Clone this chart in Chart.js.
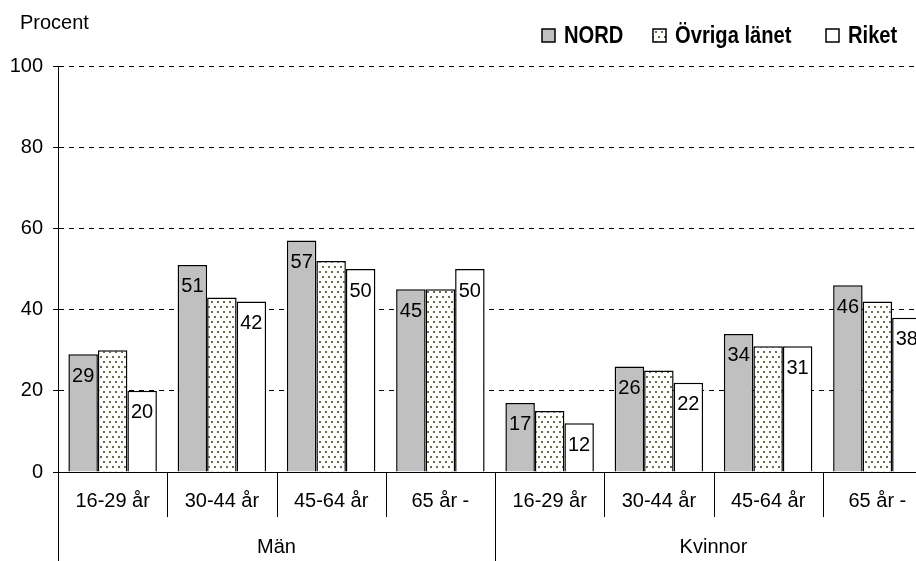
<!DOCTYPE html>
<html>
<head>
<meta charset="utf-8">
<script src="https://cdn.jsdelivr.net/npm/chart.js@4"></script>
<style>
  html, body { margin: 0; padding: 0; background: #fff; overflow: hidden; }
  #c { display: block; }
</style>
</head>
<body>
<canvas id="c" width="945" height="561"></canvas>
<script>
const categories = ["16-29 år", "30-44 år", "45-64 år", "65 år -", "16-29 år", "30-44 år", "45-64 år", "65 år -"];
const groups = ["Män", "Kvinnor"];
const seriesNames = ["NORD", "Övriga länet", "Riket"];
const nord = [29, 51, 57, 45, 17, 26, 34, 46];
const ovriga = [30, 43, 52, 45, 15, 25, 31, 42];
const riket = [20, 42, 50, 50, 12, 22, 31, 38];
const yMax = 100;
const yStep = 20;
const yTitle = "Procent";

const FONT = '"Liberation Sans", Arial, sans-serif';

// dotted fill for "Övriga länet"
function makeDots() {
  const t = document.createElement("canvas");
  t.width = 6;
  t.height = 10;
  const g = t.getContext("2d");
  g.fillStyle = "#ffffff";
  g.fillRect(0, 0, 6, 10);
  g.fillStyle = "#6b6b45";
  g.fillRect(1, 1, 2, 2);
  g.fillRect(4, 6, 2, 2);
  return g.createPattern(t, "repeat");
}
const dots = makeDots();

const fills = ["#c0c0c0", dots, "#ffffff"];

const decor = {
  id: "decor",
  afterDatasetsDraw(chart) {
    const { ctx, chartArea: a, scales: { x } } = chart;
    ctx.save();

    // value labels, only NORD and Riket have them
    ctx.font = "20px " + FONT;
    ctx.fillStyle = "#000";
    ctx.textAlign = "center";
    ctx.textBaseline = "middle";
    [0, 2].forEach((di) => {
      chart.getDatasetMeta(di).data.forEach((bar, i) => {
        ctx.fillText(String(chart.data.datasets[di].data[i]), bar.x, bar.y + 22);
      });
    });

    // x axis line
    ctx.strokeStyle = "#000";
    ctx.lineWidth = 1;
    ctx.beginPath();
    ctx.moveTo(a.left, Math.round(a.bottom) + 0.5);
    ctx.lineTo(a.right, Math.round(a.bottom) + 0.5);
    ctx.stroke();

    // separators between categories, longer ones between Män / Kvinnor
    const n = categories.length;
    const per = n / groups.length;
    const edge = (i) => {
      if (i === 0) return a.left;
      if (i === n) return a.right;
      return (x.getPixelForValue(i - 1) + x.getPixelForValue(i)) / 2;
    };
    for (let i = 0; i <= n; i++) {
      const px = Math.round(edge(i)) + 0.5;
      ctx.beginPath();
      ctx.moveTo(px, a.bottom);
      ctx.lineTo(px, i % per === 0 ? chart.height : a.bottom + 45);
      ctx.stroke();
    }

    // category labels
    ctx.font = "20px " + FONT;
    categories.forEach((c, i) => {
      ctx.fillText(c, x.getPixelForValue(i), a.bottom + 29);
    });
    // group labels
    groups.forEach((g, gi) => {
      const cx = (edge(gi * per) + edge((gi + 1) * per)) / 2;
      ctx.fillText(g, cx, a.bottom + 75);
    });

    // y title
    ctx.textAlign = "left";
    ctx.fillText(yTitle, 20, 23);

    // legend (narrow bold face approximated by squeezing)
    const lx = [542, 653, 826];
    chart.data.datasets.forEach((ds, i) => {
      ctx.fillStyle = ds.backgroundColor;
      ctx.fillRect(lx[i], 29, 13, 13);
      ctx.lineWidth = 1.5;
      ctx.strokeStyle = "#000";
      ctx.strokeRect(lx[i], 29, 13, 13);
      ctx.save();
      ctx.translate(lx[i] + 22, 43);
      ctx.scale(0.84, 1);
      ctx.font = "bold 24px " + FONT;
      ctx.fillStyle = "#000";
      ctx.textBaseline = "alphabetic";
      ctx.fillText(ds.label, 0, 0);
      ctx.restore();
    });

    ctx.restore();
  }
};

const datasets = [nord, ovriga, riket].map((d, i) => ({
  label: seriesNames[i],
  data: d,
  backgroundColor: fills[i],
  borderColor: "#000",
  borderWidth: 1.5,
  borderSkipped: "bottom",
  categoryPercentage: 0.81,
  barPercentage: 1.0
}));

new Chart(document.getElementById("c").getContext("2d"), {
  type: "bar",
  data: { labels: categories, datasets: datasets },
  options: {
    responsive: false,
    animation: false,
    devicePixelRatio: 1,
    layout: { padding: { left: 0, top: 66, right: 13, bottom: 89 } },
    plugins: {
      legend: { display: false },
      tooltip: { enabled: false }
    },
    scales: {
      x: { display: false },
      y: {
        min: 0,
        max: yMax,
        afterFit: (scale) => { scale.width = 58; },
        ticks: {
          stepSize: yStep,
          color: "#000",
          padding: 10,
          font: { family: FONT, size: 20 }
        },
        grid: {
          color: "#000",
          lineWidth: 1,
          tickLength: 5,
          tickColor: "#000",
          tickBorderDash: []
        },
        border: { display: true, color: "#000", width: 1, dash: [5, 5] }
      }
    }
  },
  plugins: [decor]
});
</script>
</body>
</html>
